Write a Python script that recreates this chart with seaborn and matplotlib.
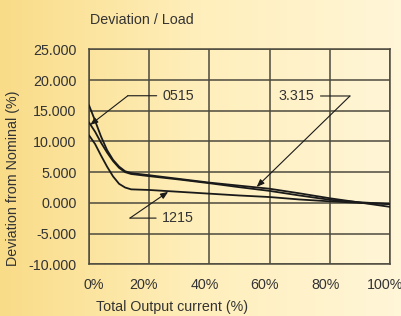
import numpy as np
import pandas as pd
import matplotlib
matplotlib.use("Agg")
import matplotlib.pyplot as plt
import matplotlib.transforms as mtransforms
from matplotlib.colors import LinearSegmentedColormap
import seaborn as sns

# values
load_pct = [0, 2, 4, 6, 8, 10, 12, 14, 20, 30, 40, 50, 60, 70, 80, 90, 100]
dev_3315 = [15.9, 13.4, 10.8, 8.6, 7.0, 5.9, 5.15, 4.85, 4.5, 3.9, 3.3, 2.8, 2.3, 1.55, 0.75, 0.05, -0.65]
dev_0515 = [13.1, 11.6, 9.8, 8.2, 6.8, 5.7, 5.0, 4.7, 4.35, 3.8, 3.2, 2.55, 1.95, 1.2, 0.5, 0.1, -0.2]
dev_1215 = [11.0, 9.6, 7.7, 5.9, 4.3, 3.1, 2.5, 2.2, 2.1, 1.8, 1.5, 1.2, 0.95, 0.55, 0.25, 0.0, -0.2]
x_ticks = [0, 20, 40, 60, 80, 100]
x_tick_labels = ['0%', '20%', '40%', '60%', '80%', '100%']
y_ticks = [-10, -5, 0, 5, 10, 15, 20, 25]

df = pd.concat([
    pd.DataFrame({'load': load_pct, 'dev': dev_3315, 'model': '3.315'}),
    pd.DataFrame({'load': load_pct, 'dev': dev_0515, 'model': '0515'}),
    pd.DataFrame({'load': load_pct, 'dev': dev_1215, 'model': '1215'}),
])

sns.set_style('white')
plt.rcParams['font.family'] = ['Liberation Sans', 'DejaVu Sans']
fs = 10.3
txt_col = '#333333'

fig = plt.figure(figsize=(4.02, 3.16), dpi=100)

# warm gradient background
bg = fig.add_axes([0, 0, 1, 1], zorder=-10)
cmap = LinearSegmentedColormap.from_list('warm', ['#f9dc88', '#ffefbc', '#fff6d8'])
bg.imshow(np.linspace(0, 1, 256).reshape(1, -1), aspect='auto', cmap=cmap, extent=[0, 1, 0, 1])
bg.axis('off')

ax = fig.add_axes([89 / 402, 1 - 264.3 / 316, 301 / 402, 215 / 316])
ax.set_facecolor('none')

grid_col = '#4d4a3e'
sns.lineplot(data=df, x='load', y='dev', hue='model', units='model', estimator=None,
             palette=['#1a1a1a'] * 3, linewidth=1.3, legend=False, ax=ax, zorder=3)

ax.set_xlim(0, 100)
ax.set_ylim(-10, 25)
ax.set_xticks(x_ticks)
ax.set_xticklabels(x_tick_labels)
ax.set_yticks(y_ticks)
ax.set_yticklabels([f'{v:.3f}' for v in y_ticks])
ax.grid(True, color=grid_col, linewidth=1.1)
for s in ax.spines.values():
    s.set_visible(True)
    s.set_color(grid_col)
    s.set_linewidth(1.1)
ax.tick_params(axis='both', length=0, labelsize=fs, colors=txt_col)
ax.tick_params(axis='y', pad=9)
ax.tick_params(axis='x', pad=10)
# nudge x tick labels like the reference
offs = [5, -6, -5, -5, -4, -5]
for lab, dx in zip(ax.get_xticklabels(), offs):
    lab.set_transform(lab.get_transform() + mtransforms.ScaledTranslation(dx / 100, 0, fig.dpi_scale_trans))

ax.set_xlabel('Total Output current (%)', fontsize=fs, color=txt_col)
ax.set_ylabel('Deviation from Nominal (%)', fontsize=fs, color=txt_col)
ax.xaxis.set_label_coords(0.276, -0.165)
ax.yaxis.set_label_coords(-0.229, 0.40)

fig.text(90 / 402, 1 - 20 / 316, 'Deviation / Load', fontsize=fs, color=txt_col, va='center', ha='left')

# callouts
arrow = dict(arrowstyle='-|>,head_length=0.45,head_width=0.18', color='#1a1a1a', lw=0.8, shrinkA=0, shrinkB=0)
leader = dict(arrowstyle='-', color='#1a1a1a', lw=0.8, shrinkA=2, shrinkB=0)
callouts = [
    ('0515', (24.5, 17.44), (12.9, 17.44), (0.4, 12.7), 'left'),
    ('3.315', (74.9, 17.40), (86.7, 17.40), (55.7, 2.6), 'right'),
    ('1215', (24.3, -2.48), (13.6, -2.48), (26.3, 1.8), 'left'),
]
for label, txt_xy, corner, target, ha in callouts:
    ax.annotate('', xy=target, xytext=corner, arrowprops=arrow, zorder=4)
    ax.annotate(label, xy=corner, xytext=txt_xy, ha=ha, va='center', fontsize=fs,
                color=txt_col, arrowprops=leader, zorder=4)

fig.savefig('out.png', dpi=100)
